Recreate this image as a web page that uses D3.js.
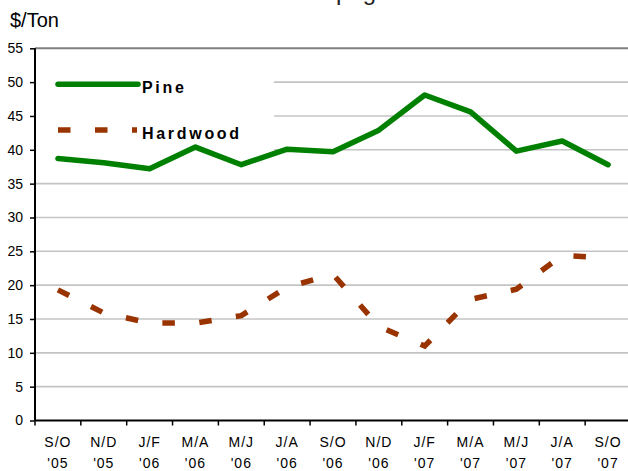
<!DOCTYPE html>
<html><head><meta charset="utf-8">
<script src="https://cdn.jsdelivr.net/npm/d3@7"></script>
<style>
html,body{margin:0;padding:0;background:#fff;}
svg{display:block;font-family:Arial,"Liberation Sans",sans-serif;}
</style></head>
<body>
<svg id="chart" width="628" height="471"></svg>
<script>
const categories = ["S/O|'05","N/D|'05","J/F|'06","M/A|'06","M/J|'06","J/A|'06","S/O|'06","N/D|'06","J/F|'07","M/A|'07","M/J|'07","J/A|'07","S/O|'07"];
const pine = [38.7,38.1,37.2,40.4,37.8,40.1,39.7,42.9,48.1,45.6,39.8,41.3,37.8];
const hardwood = [19.3,15.9,14.4,14.4,15.5,19.7,21.6,13.9,11.0,17.9,19.4,24.4,24.0];
const yTicks = [0,5,10,15,20,25,30,35,40,45,50,55];
const seriesNames = ["Pine","Hardwood"];

const svg = d3.select("#chart");
const pLeft = 35, pRight = 631, pTop = 48.3, pBottom = 420.5;
const x = d3.scaleBand().domain(categories).range([pLeft, pRight]);
const y = d3.scaleLinear().domain([0,55]).range([pBottom, pTop]);
const cx = c => x(c) + x.bandwidth()/2;

// title (cut off at the top edge in the reference)
svg.append("text").attr("x", 280).attr("y", -0.5).attr("font-size", 24)
  .attr("fill", "#222").text("Stumpage");

// y unit label
svg.append("text").attr("x", 10).attr("y", 27).attr("font-size", 20)
  .attr("fill", "#000").text("$/Ton");

// gridlines
svg.append("g").selectAll("line").data(yTicks.filter(v => v > 0)).join("line")
  .attr("x1", pLeft).attr("x2", 628)
  .attr("y1", d => y(d)).attr("y2", d => y(d))
  .attr("stroke", d => d === 55 ? "#808080" : "#c4c4c4")
  .attr("stroke-width", d => d === 55 ? 2 : 1.6);

// legend background
svg.append("rect").attr("x", pLeft + 1).attr("y", 62).attr("width", 274 - pLeft - 1).attr("height", 103)
  .attr("fill", "#fff");

// y axis
const yAxis = d3.axisLeft(y).tickValues(yTicks).tickSize(5).tickPadding(7).tickFormat(d3.format("d"));
const gy = svg.append("g").attr("transform", `translate(${pLeft},0)`).call(yAxis);
gy.select(".domain").attr("stroke", "#000").attr("stroke-width", 2).attr("d", `M0,${pTop}V${pBottom}`);
gy.selectAll(".tick line").attr("stroke", "#000").attr("stroke-width", 1.5);
gy.selectAll(".tick text").attr("font-size", 14).attr("fill", "#000").attr("font-family", "Arial, 'Liberation Sans', sans-serif");

// x axis line
svg.append("line").attr("x1", pLeft).attr("x2", 628).attr("y1", pBottom).attr("y2", pBottom)
  .attr("stroke", "#000").attr("stroke-width", 2);
// x ticks at category boundaries
svg.append("g").selectAll("line").data(categories).join("line")
  .attr("x1", d => x(d)).attr("x2", d => x(d))
  .attr("y1", pBottom).attr("y2", pBottom + 5)
  .attr("stroke", "#000").attr("stroke-width", 1.5);
// x labels
const xl = svg.append("g").selectAll("text").data(categories).join("text")
  .attr("text-anchor", "middle").attr("font-size", 14).attr("fill", "#000")
  .attr("letter-spacing", 1);
xl.append("tspan").attr("x", d => cx(d)).attr("y", 446.5).text(d => d.split("|")[0]);
xl.append("tspan").attr("x", d => cx(d)).attr("y", 468).text(d => d.split("|")[1]);

// legend
const lg = svg.append("g");
lg.append("line").attr("x1", 58).attr("x2", 138).attr("y1", 84.3).attr("y2", 84.3)
  .attr("stroke", "#008000").attr("stroke-width", 5.5).attr("stroke-linecap", "round");
lg.append("text").attr("x", 142).attr("y", 92.5).attr("font-size", 16).attr("font-weight", "bold")
  .attr("letter-spacing", 2.7).attr("fill", "#000").text(seriesNames[0]);
lg.append("line").attr("x1", 58).attr("x2", 137).attr("y1", 130).attr("y2", 130)
  .attr("stroke", "#993300").attr("stroke-width", 5.5).attr("stroke-dasharray", "12.5,24.5");
lg.append("text").attr("x", 142).attr("y", 138.5).attr("font-size", 16).attr("font-weight", "bold")
  .attr("letter-spacing", 2.7).attr("fill", "#000").text(seriesNames[1]);

// series
const line = d3.line().x((d,i) => cx(categories[i])).y(d => y(d));
svg.append("path").datum(hardwood).attr("d", line).attr("fill", "none")
  .attr("stroke", "#993300").attr("stroke-width", 5.5).attr("stroke-dasharray", "12.5,24.5");
svg.append("path").datum(pine).attr("d", line).attr("fill", "none")
  .attr("stroke", "#008000").attr("stroke-width", 5.5)
  .attr("stroke-linejoin", "round").attr("stroke-linecap", "round");
</script>
</body></html>
